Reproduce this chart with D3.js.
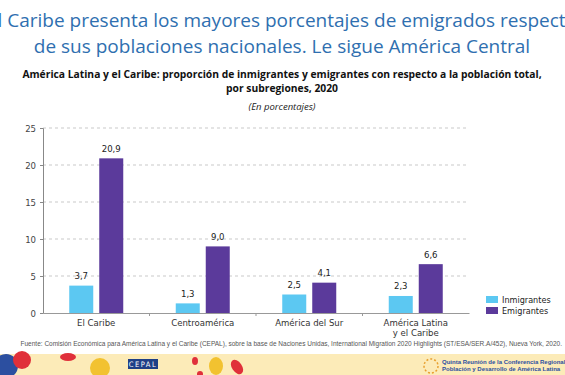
<!DOCTYPE html>
<html>
<head>
<meta charset="utf-8">
<script src="https://cdn.jsdelivr.net/npm/d3@7"></script>
<style>
  body { margin: 0; background: #fff; }
  svg { display: block; }
</style>
</head>
<body>
<svg id="chart" width="565" height="375"></svg>
<script>
// data
var categories = ["El Caribe", "Centroamérica", "América del Sur", "América Latina\ny el Caribe"];
var inmigrantes = [3.7, 1.3, 2.5, 2.3];
var emigrantes = [20.9, 9.0, 4.1, 6.6];
var seriesNames = ["Inmigrantes", "Emigrantes"];
var yTicks = [0, 5, 10, 15, 20, 25];

var colors = ["#5CC8F2", "#5B3A9B"];
var narrow = "'DejaVu Sans Condensed', 'Liberation Sans Narrow', sans-serif";

var svg = d3.select("#chart");
var margin = {left: 43, top: 128, right: 96, bottom: 62};
var width = 565 - margin.left - margin.right;
var height = 375 - margin.top - margin.bottom;

// titles
svg.append("text")
  .attr("x", 282).attr("y", 27)
  .attr("text-anchor", "middle")
  .style("font-family", "'Open Sans', sans-serif")
  .style("font-size", "19px")
  .style("fill", "#2F6FB0")
  .text("El Caribe presenta los mayores porcentajes de emigrados respecto");
svg.append("text")
  .attr("x", 282).attr("y", 53)
  .attr("text-anchor", "middle")
  .style("font-family", "'Open Sans', sans-serif")
  .style("font-size", "19px")
  .style("fill", "#2F6FB0")
  .text("de sus poblaciones nacionales. Le sigue América Central");

svg.append("text")
  .attr("x", 282).attr("y", 78)
  .attr("text-anchor", "middle")
  .style("font-family", "'Open Sans', sans-serif")
  .style("font-weight", "bold")
  .style("font-size", "10.3px")
  .style("fill", "#111")
  .text("América Latina y el Caribe: proporción de inmigrantes y emigrantes con respecto a la población total,");
svg.append("text")
  .attr("x", 282).attr("y", 92)
  .attr("text-anchor", "middle")
  .style("font-family", "'Open Sans', sans-serif")
  .style("font-weight", "bold")
  .style("font-size", "10.3px")
  .style("fill", "#111")
  .text("por subregiones, 2020");
svg.append("text")
  .attr("x", 282).attr("y", 110)
  .attr("text-anchor", "middle")
  .style("font-family", "'Open Sans', sans-serif")
  .style("font-style", "italic")
  .style("font-size", "9.5px")
  .style("fill", "#222")
  .text("(En porcentajes)");

var g = svg.append("g")
  .attr("transform", "translate(" + margin.left + "," + margin.top + ")");

// scales
var x = d3.scaleBand()
  .domain(categories)
  .range([0, width]);

var x1 = d3.scaleBand()
  .domain(seriesNames)
  .range([x.bandwidth() / 2 - 27, x.bandwidth() / 2 + 27])
  .paddingInner(0.2);

var y = d3.scaleLinear()
  .domain([0, 25])
  .range([height, 0]);

// gridlines
g.selectAll(".grid")
  .data(yTicks.filter(function(d) { return d > 0; }))
  .enter()
  .append("line")
  .attr("class", "grid")
  .attr("x1", 0).attr("x2", width)
  .attr("y1", function(d) { return y(d); })
  .attr("y2", function(d) { return y(d); })
  .style("stroke", "#bbb")
  .style("stroke-width", 0.8)
  .style("stroke-dasharray", "3,3");

// y axis
var yAxis = d3.axisLeft(y).tickValues(yTicks).tickSize(3).tickPadding(4);
var yg = g.append("g").attr("class", "y axis").call(yAxis);
yg.select(".domain").style("stroke", "#888");
yg.selectAll(".tick line").style("stroke", "#888");
yg.selectAll(".tick text")
  .style("font-family", narrow)
  .style("font-size", "9.5px")
  .style("fill", "#444");

// x axis
var xAxis = d3.axisBottom(x).tickSize(0).tickFormat("");
var xg = g.append("g")
  .attr("class", "x axis")
  .attr("transform", "translate(0," + height + ")")
  .call(xAxis);
xg.select(".domain").style("stroke", "#999");

// separators between categories
g.selectAll(".sep")
  .data(categories.slice(1))
  .enter()
  .append("line")
  .attr("x1", function(d) { return x(d); })
  .attr("x2", function(d) { return x(d); })
  .attr("y1", height).attr("y2", height + 3)
  .style("stroke", "#999");

// category labels
categories.forEach(function(c) {
  var lines = c.split("\n");
  var t = g.append("text")
    .attr("x", x(c) + x.bandwidth() / 2)
    .attr("y", height + 13)
    .attr("text-anchor", "middle")
    .style("font-family", narrow)
    .style("font-size", "9.5px")
    .style("fill", "#333");
  lines.forEach(function(l, i) {
    t.append("tspan")
      .attr("x", x(c) + x.bandwidth() / 2)
      .attr("dy", i === 0 ? 0 : 10)
      .text(l);
  });
});

// bars
var series = [inmigrantes, emigrantes];
series.forEach(function(vals, si) {
  var grp = g.append("g");
  grp.selectAll("rect")
    .data(vals)
    .enter()
    .append("rect")
    .attr("x", function(d, i) { return x(categories[i]) + x1(seriesNames[si]); })
    .attr("y", function(d) { return y(d); })
    .attr("width", x1.bandwidth())
    .attr("height", function(d) { return height - y(d); })
    .style("fill", colors[si]);
  grp.selectAll("text")
    .data(vals)
    .enter()
    .append("text")
    .attr("x", function(d, i) { return x(categories[i]) + x1(seriesNames[si]) + x1.bandwidth() / 2; })
    .attr("y", function(d) { return y(d) - 6.5; })
    .attr("text-anchor", "middle")
    .style("font-family", narrow)
    .style("font-size", "9.5px")
    .style("fill", "#222")
    .text(function(d) { return d.toFixed(1).replace(".", ","); });
});

// legend
var legend = svg.append("g").attr("transform", "translate(486,296)");
seriesNames.forEach(function(n, i) {
  legend.append("rect")
    .attr("x", 0).attr("y", i * 11)
    .attr("width", 12).attr("height", 7)
    .style("fill", colors[i]);
  legend.append("text")
    .attr("x", 16).attr("y", i * 11 + 7)
    .style("font-family", narrow)
    .style("font-size", "9px")
    .style("fill", "#222")
    .text(n);
});

// source
svg.append("text")
  .attr("x", 562).attr("y", 346)
  .attr("text-anchor", "end")
  .style("font-family", "'Liberation Sans', sans-serif")
  .style("font-size", "6.5px")
  .style("fill", "#555")
  .text("Fuente: Comisión Económica para América Latina y el Caribe (CEPAL), sobre la base de Naciones Unidas, International Migration 2020 Highlights (ST/ESA/SER.A/452), Nueva York, 2020.");

// footer band
var foot = svg.append("g");
foot.append("rect")
  .attr("x", 0).attr("y", 354).attr("width", 565).attr("height", 21)
  .style("fill", "#FCEBB8");
foot.append("circle").attr("cx", -2).attr("cy", 374).attr("r", 16).style("fill", "#F2C230");
foot.append("circle").attr("cx", 6).attr("cy", 366).attr("r", 12).style("fill", "#2C4FA0");
foot.append("circle").attr("cx", 22).attr("cy", 360).attr("r", 9).style("fill", "#E0303A");
foot.append("ellipse").attr("cx", 68).attr("cy", 357).attr("rx", 8).attr("ry", 4).style("fill", "#E0303A");
foot.append("ellipse").attr("cx", 100).attr("cy", 368).attr("rx", 10).attr("ry", 10).style("fill", "#F2C230");
foot.append("rect").attr("x", 128).attr("y", 359).attr("width", 30).attr("height", 10).style("fill", "#1F3F86");
foot.append("text").attr("x", 143).attr("y", 367).attr("text-anchor", "middle")
  .style("font-family", narrow).style("font-size", "7.5px")
  .style("fill", "#fff").style("letter-spacing", "1.5px").text("CEPAL");
foot.append("ellipse").attr("cx", 195).attr("cy", 361).attr("rx", 3).attr("ry", 4).style("fill", "#E0303A");
foot.append("ellipse").attr("cx", 200).attr("cy", 374).attr("rx", 3).attr("ry", 3).style("fill", "#E0303A");
foot.append("ellipse").attr("cx", 216).attr("cy", 366).attr("rx", 7).attr("ry", 9).style("fill", "#F2C230");
foot.append("ellipse").attr("cx", 237).attr("cy", 367).attr("rx", 5).attr("ry", 8)
  .attr("transform", "rotate(-35,237,367)").style("fill", "#E0303A");
foot.append("circle").attr("cx", 431).attr("cy", 366).attr("r", 7).style("fill", "none")
  .style("stroke", "#E8A030").style("stroke-width", 1.5).style("stroke-dasharray", "2,2");
foot.append("text").attr("x", 442).attr("y", 364)
  .style("font-family", "'Liberation Sans', sans-serif").style("font-weight", "bold")
  .style("font-size", "6px").style("fill", "#2C4FA0")
  .text("Quinta Reunión de la Conferencia Regional");
foot.append("text").attr("x", 442).attr("y", 371)
  .style("font-family", "'Liberation Sans', sans-serif").style("font-weight", "bold")
  .style("font-size", "6px").style("fill", "#2C4FA0")
  .text("Población y Desarrollo de América Latina");
</script>
</body>
</html>
